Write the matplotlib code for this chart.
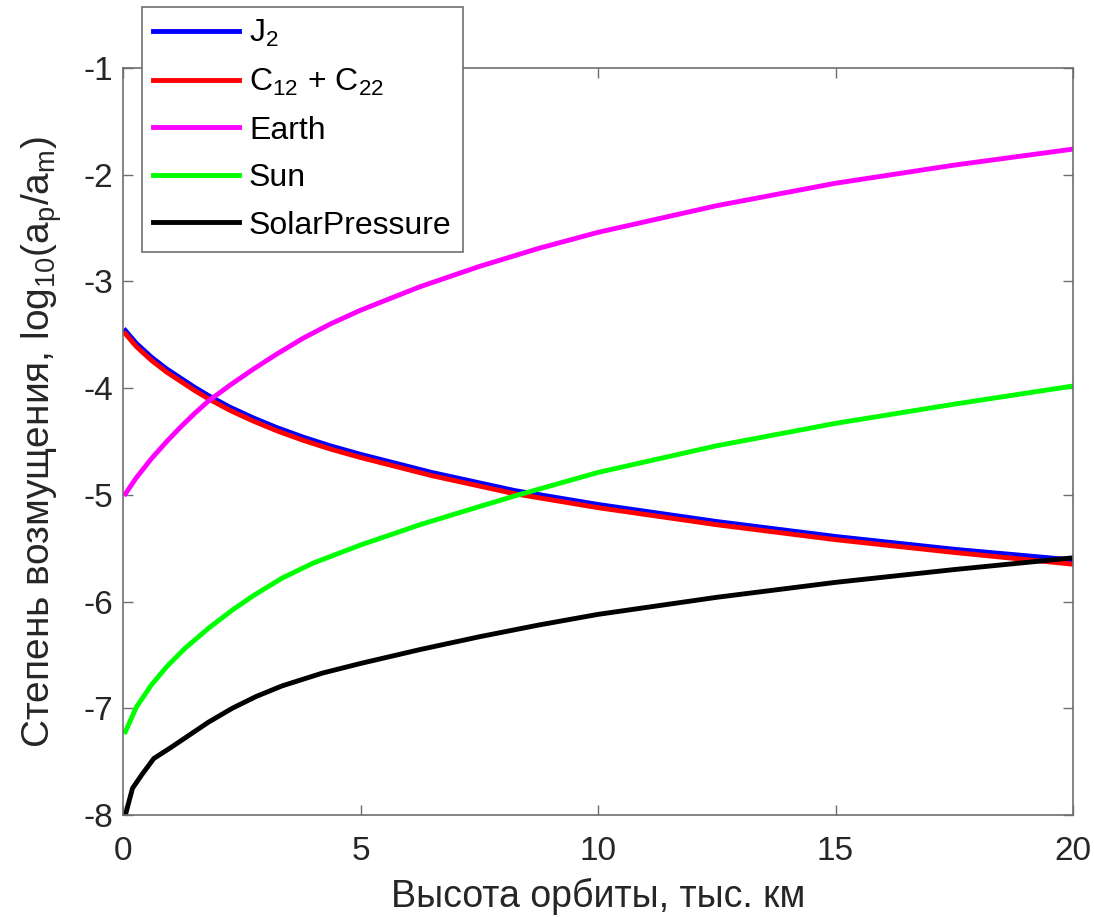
import numpy as np
import matplotlib
matplotlib.use('Agg')
import matplotlib.pyplot as plt

plt.rcParams['font.family'] = ['Liberation Sans', 'DejaVu Sans']
plt.rcParams['mathtext.fontset'] = 'custom'
plt.rcParams['mathtext.rm'] = 'Liberation Sans'
plt.rcParams['mathtext.it'] = 'Liberation Sans'
plt.rcParams['mathtext.default'] = 'rm'
plt.rcParams['axes.unicode_minus'] = False

# values (altitude in thousand km, log10 ratio)
h_j2 = [0.05, 0.28, 0.6, 0.92, 1.5, 1.8, 2.26, 2.75, 3.24, 3.8, 4.36, 5,
        6.5, 8.25, 10, 12.5, 15, 17.5, 20]
j2 = [-3.46, -3.58, -3.71, -3.82, -3.99, -4.07, -4.18, -4.28, -4.37, -4.46, -4.54, -4.62,
      -4.79, -4.96, -5.09, -5.25, -5.39, -5.51, -5.61]
c12c22 = [-3.49, -3.61, -3.74, -3.85, -4.02, -4.10, -4.21, -4.31, -4.40, -4.49, -4.57, -4.65,
          -4.82, -4.99, -5.12, -5.28, -5.42, -5.54, -5.65]

h_earth = [0.05, 0.28, 0.6, 0.92, 1.2, 1.5, 1.8, 2.26, 2.75, 3.24, 3.8, 4.36, 5,
           6.25, 7.5, 8.75, 10, 12.5, 15, 17.5, 20]
earth = [-4.99, -4.84, -4.66, -4.50, -4.37, -4.24, -4.12, -3.97, -3.82, -3.68, -3.53, -3.40, -3.27,
         -3.05, -2.86, -2.69, -2.54, -2.29, -2.08, -1.91, -1.76]

h_sun = [0.05, 0.28, 0.6, 0.92, 1.3, 1.8, 2.3, 2.76, 3.35, 4.0, 5,
         6.25, 7.5, 8.25, 10, 12.5, 15, 17.5, 20]
sun = [-7.22, -6.99, -6.78, -6.61, -6.44, -6.25, -6.08, -5.94, -5.78, -5.64, -5.47,
       -5.28, -5.11, -5.01, -4.79, -4.54, -4.33, -4.15, -3.98]

h_sp = [0.05, 0.2, 0.4, 0.55, 0.65, 1.0, 1.3, 1.8, 2.3, 2.8, 3.35, 4.2, 5,
        6.25, 7.5, 8.75, 10, 12.5, 15, 17.5, 20]
solar = [-8.0, -7.75, -7.62, -7.53, -7.47, -7.37, -7.28, -7.13, -7.00, -6.89, -6.79, -6.67, -6.58,
         -6.45, -6.33, -6.22, -6.12, -5.96, -5.82, -5.70, -5.59]

fig = plt.figure(figsize=(10.94, 9.17), dpi=100)
ax = fig.add_axes([123/1094, 1-815/917, 950/1094, 747/917])

lw = 3.5
ax.plot(h_j2, j2, color='#0000ff', lw=lw, label='J$_2$')
ax.plot(h_j2, c12c22, color='#ff0000', lw=lw, label='C$_{12}$ + C$_{22}$')
ax.plot(h_earth, earth, color='#ff00ff', lw=lw, label='Earth')
ax.plot(h_sun, sun, color='#00ff00', lw=lw, label='Sun')
ax.plot(h_sp, solar, color='#000000', lw=lw, label='SolarPressure')

ax.set_xlim(0, 20)
ax.set_ylim(-8, -1)
ax.set_xticks([0, 5, 10, 15, 20])
ax.set_yticks(range(-8, 0))
ax.tick_params(direction='in', length=7, width=1, top=True, right=True,
               labelsize=24, colors='#6e6e6e', labelcolor='#262626')
ax.tick_params(axis='x', pad=15)
ax.tick_params(axis='y', pad=7)
for s in ax.spines.values():
    s.set_color('#6e6e6e')
    s.set_linewidth(1.2)

ax.set_xlabel('Высота орбиты, тыс. км', fontsize=27, color='#262626', labelpad=8)
ax.set_ylabel('Степень возмущения, log$_{10}$(a$_p$/a$_m$)', fontsize=28, color='#262626', labelpad=14)

leg = ax.legend(loc='upper left', bbox_to_anchor=(142/1094, 1-7/917),
                bbox_transform=fig.transFigure, borderaxespad=0, fontsize=23,
                fancybox=False, handlelength=2.7, handletextpad=0.3,
                borderpad=0.35, labelspacing=0.55, framealpha=1)
leg.get_frame().set_edgecolor('#6e6e6e')
leg.get_frame().set_linewidth(1.2)
for line in leg.get_lines():
    line.set_linewidth(lw)

fig.savefig('out.png', dpi=100)
